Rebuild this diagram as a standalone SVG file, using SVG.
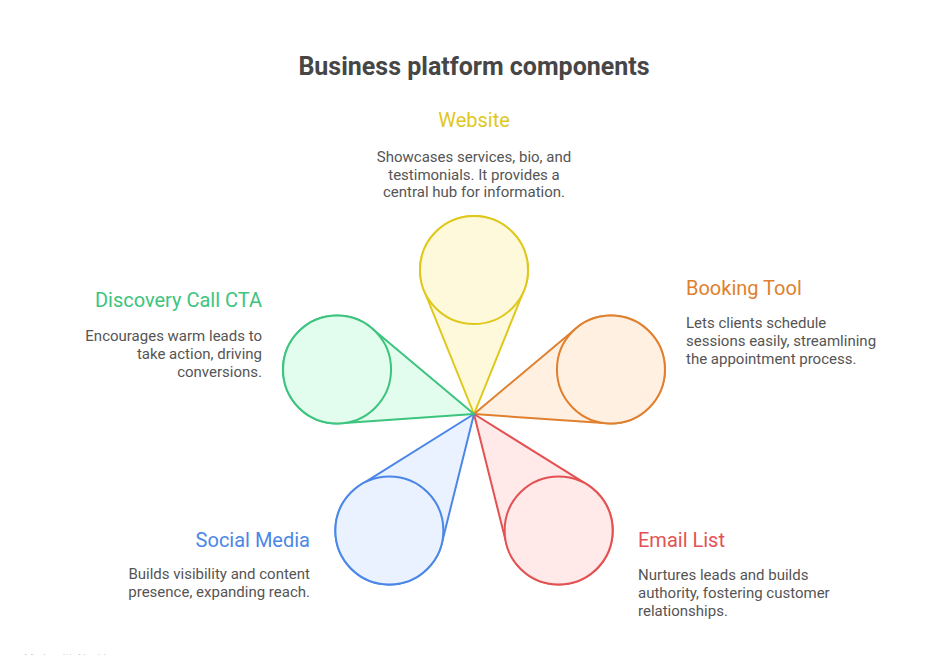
<svg xmlns="http://www.w3.org/2000/svg" width="945" height="655" viewBox="0 0 945 655">
<style>
.title{font-family:Roboto,"Liberation Sans",sans-serif;font-weight:700;font-size:25px;fill:#464646}
.head{font-family:Roboto,"Liberation Sans",sans-serif;font-size:20px}
.desc{font-family:Roboto,"Liberation Sans",sans-serif;font-size:15px;fill:#555555}
.petal{stroke-width:2;stroke-linejoin:round}
.y{fill:#FFF9DB;stroke:#DFC81C}
.o{fill:#FFF0E2;stroke:#E0802E}
.r{fill:#FFE9E9;stroke:#E35252}
.b{fill:#EBF2FF;stroke:#4B87E6}
.g{fill:#E2FCEE;stroke:#3DC47E}
.wm{font-family:Roboto,"Liberation Sans",sans-serif;font-size:11px;fill:#cccccc}
</style>
<rect width="945" height="655" fill="#ffffff"/>
<text class="title" x="474" y="75" text-anchor="middle">Business platform components</text>
<g id="connectors"></g>
<g id="website">
<path class="petal y" d="M474 414 L423.95 290.24 A54 54 0 1 1 524.05 290.24 Z"/>
<circle class="petal y" cx="474" cy="270" r="54"/>
<text class="head" x="474" y="127" text-anchor="middle" fill="#DFC81C">Website</text>
<text class="desc" text-anchor="middle"><tspan x="474" y="162">Showcases services, bio, and</tspan><tspan x="474" y="180">testimonials. It provides a</tspan><tspan x="474" y="197">central hub for information.</tspan></text>
</g>
<g id="booking-tool">
<path class="petal o" d="M474 414 L576.23 328.15 A54 54 0 1 1 607.16 423.36 Z"/>
<circle class="petal o" cx="610.95" cy="369.5" r="54"/>
<text class="head" x="686" y="295" fill="#E0802E">Booking Tool</text>
<text class="desc"><tspan x="686" y="328">Lets clients schedule</tspan><tspan x="686" y="346">sessions easily, streamlining</tspan><tspan x="686" y="364">the appointment process.</tspan></text>
</g>
<g id="email-list">
<path class="petal r" d="M474 414 L587.23 484.7 A54 54 0 1 1 506.34 543.51 Z"/>
<circle class="petal r" cx="558.64" cy="530.5" r="54"/>
<text class="head" x="638" y="547" fill="#E35252">Email List</text>
<text class="desc"><tspan x="638" y="580">Nurtures leads and builds</tspan><tspan x="638" y="598">authority, fostering customer</tspan><tspan x="638" y="616">relationships.</tspan></text>
</g>
<g id="social-media">
<path class="petal b" d="M474 414 L441.75 543.54 A54 54 0 1 1 360.81 484.78 Z"/>
<circle class="petal b" cx="389.36" cy="530.5" r="54"/>
<text class="head" x="310" y="547" text-anchor="end" fill="#4B87E6">Social Media</text>
<text class="desc" text-anchor="end"><tspan x="310" y="579">Builds visibility and content</tspan><tspan x="310" y="597">presence, expanding reach.</tspan></text>
</g>
<g id="discovery-call">
<path class="petal g" d="M474 414 L340.84 423.36 A54 54 0 1 1 371.72 328.22 Z"/>
<circle class="petal g" cx="337.05" cy="369.5" r="54"/>
<text class="head" x="262" y="307" text-anchor="end" fill="#3DC47E">Discovery Call CTA</text>
<text class="desc" text-anchor="end"><tspan x="262" y="341">Encourages warm leads to</tspan><tspan x="262" y="359">take action, driving</tspan><tspan x="262" y="377">conversions.</tspan></text>
</g>
<text class="wm" x="24" y="662">Made with Napkin</text>
</svg>
